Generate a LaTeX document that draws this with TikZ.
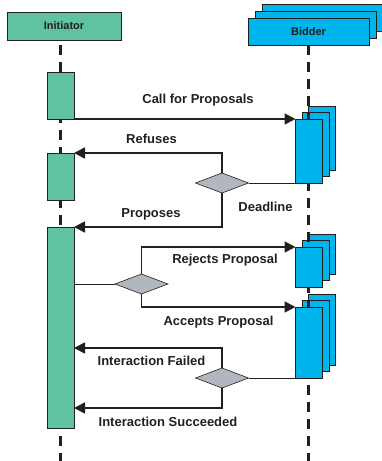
\documentclass[tikz,border=0pt]{standalone}
\usepackage{fontspec}
\setmainfont{Liberation Sans}
\usetikzlibrary{arrows.meta,shapes.geometric}
\definecolor{initgreen}{RGB}{95,195,160}
\definecolor{bidcyan}{RGB}{0,181,235}
\definecolor{choicegray}{RGB}{176,183,190}
\definecolor{ink}{RGB}{35,31,32}

\begin{document}
\begin{tikzpicture}[x=1pt,y=-1pt,
    role/.style={draw=ink,line width=0.9pt,minimum height=28pt,inner sep=0pt,outer sep=0pt,font=\fontsize{11}{13}\selectfont\bfseries,text=ink},
    bar/.style={draw=ink,line width=0.9pt,minimum width=27pt,inner sep=0pt,outer sep=0pt},
    choice/.style={diamond,draw=ink,line width=0.6pt,fill=choicegray,minimum width=53pt,minimum height=20pt,inner sep=0pt,outer sep=0pt},
    msg/.style={draw=ink,line width=1.7pt,-{Triangle[length=11pt,width=11pt]}},
    wire/.style={draw=ink,line width=1pt},
    lifeline/.style={draw=ink,line width=3pt,dash pattern=on 10pt off 7pt},
    lbl/.style={anchor=base,font=\fontsize{13}{15}\selectfont\bfseries,text=ink}]
    \useasboundingbox (0,0) rectangle (381,461);
    \node[role,fill=initgreen,minimum width=114pt] (init) at (64,26) {Initiator};
    \foreach \k in {2,1}
        \node[role,fill=bidcyan,minimum width=121pt,minimum height=27pt] (bid-\k) at (308.5+7*\k,31.5-7*\k) {};
    \node[role,fill=bidcyan,minimum width=121pt,minimum height=27pt] (bid) at (308.5,31.5) {Bidder};
    \foreach \n/\y/\h in {b1/151/64,b2/267/40,b3/342.5/71}
        \foreach \k in {2,1}
            \node[bar,fill=bidcyan,minimum height=\h pt] (\n-\k) at (309+6.5*\k,\y-6.5*\k) {};
    \coordinate (itop) at (60.5,40);
    \coordinate (bottom) at (309,461);
    \draw[lifeline,dash phase=12pt] (itop) -- (itop |- bottom);
    \draw[lifeline] (bid.south) -- (bid.south |- bottom);
    \node[bar,fill=initgreen,minimum height=47pt] (i1) at (60.5,95.5) {};
    \node[bar,fill=initgreen,minimum height=47pt] (i2) at (60.5,176.5) {};
    \node[bar,fill=initgreen,minimum height=201pt] (i3) at (60.5,327.5) {};
    \foreach \n/\y/\h in {b1/151/64,b2/267/40,b3/342.5/71}
        \node[bar,fill=bidcyan,minimum height=\h pt] (\n) at (309,\y) {};
    \node[choice] (d1) at (222,183) {};
    \node[choice] (d2) at (141.5,284) {};
    \node[choice] (d3) at (222,378) {};
    \coordinate (failed) at (0,348);
    \coordinate (succeeded) at (0,408);
    \draw[msg] (i1.south east) -- (b1.north west);
    \draw[msg] (d1.north) |- (i2.north east);
    \draw[msg] (d1.south) |- (i3.north east);
    \draw[wire] (b1.south west) -- (d1.east);
    \draw[wire] (i3.east |- d2) -- (d2.west);
    \draw[msg] (d2.north) |- (b2.north west);
    \draw[msg] (d2.south) |- (b3.north west);
    \draw[wire] (b3.south west) -- (d3.east);
    \draw[msg] (d3.north) |- (i3.east |- failed);
    \draw[msg] (d3.south) |- (i3.east |- succeeded);
    \node[lbl] (cfp) at (198,103) {Call for Proposals};
    \node[lbl] (refuses) at (151.5,143) {Refuses};
    \node[lbl] (proposes) at (151,217) {Proposes};
    \node[lbl] (deadline) at (265.5,211) {Deadline};
    \node[lbl] (rejects) at (225,263) {Rejects Proposal};
    \node[lbl] (accepts) at (218.5,325) {Accepts Proposal};
    \node[lbl] (failedlbl) at (151.5,365) {Interaction Failed};
    \node[lbl] (succlbl) at (168,426) {Interaction Succeeded};
\end{tikzpicture}
\end{document}
